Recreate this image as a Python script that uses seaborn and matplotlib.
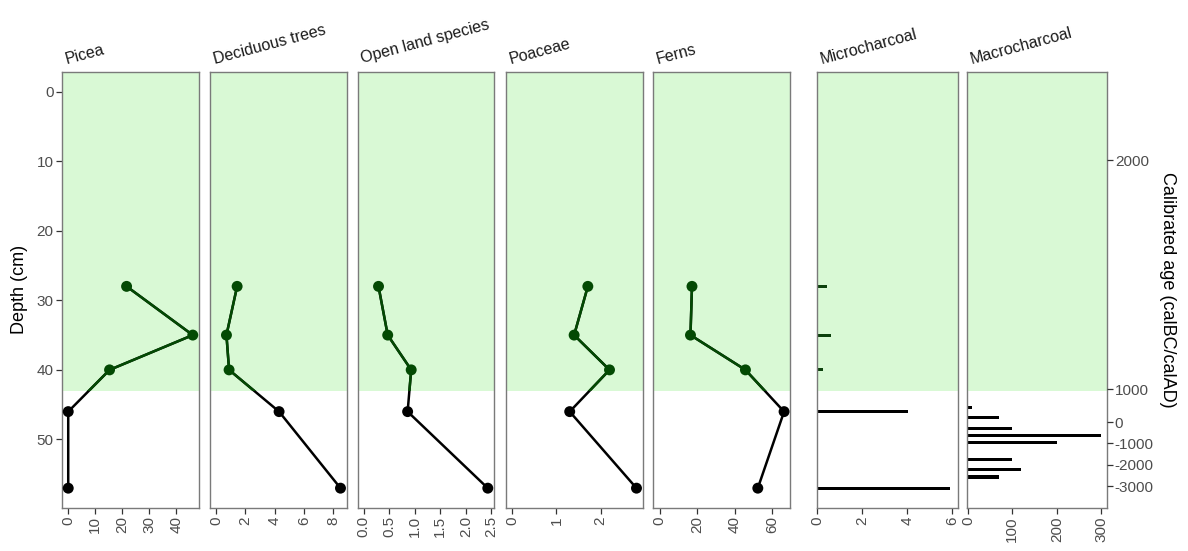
import numpy as np
import pandas as pd
import matplotlib
matplotlib.use("Agg")
import matplotlib.pyplot as plt
import seaborn as sns

# ---------------- data ----------------
depth = [28, 35, 40, 46, 57]
picea = [21.6, 46.1, 15.3, 0.0, 0.0]
deciduous = [1.43, 0.70, 0.88, 4.3, 8.5]
open_land = [0.29, 0.47, 0.93, 0.86, 2.43]
poaceae = [1.71, 1.40, 2.20, 1.30, 2.81]
ferns = [17.3, 16.5, 45.8, 66.4, 52.4]
microcharcoal = [0.45, 0.60, 0.25, 4.05, 5.9]

macro_depth = [45.4, 46.9, 48.4, 49.4, 50.4, 52.9, 54.3, 55.4]
macrocharcoal = [10, 70, 100, 300, 200, 100, 120, 70]

zone_limit = 43  # depth (cm) where the shaded zone ends

age_model_depth = [9.9, 42.8, 47.5, 57.0]
age_model_age = [2000, 1000, 0, -3100]
age_ticks = [2000, 1000, 0, -1000, -2000, -3000]

pollen_titles = ["Picea", "Deciduous trees", "Open land species", "Poaceae", "Ferns"]
pollen_values = [picea, deciduous, open_land, poaceae, ferns]
pollen_ticks = [[0, 10, 20, 30, 40], [0, 2, 4, 6, 8],
                [0.0, 0.5, 1.0, 1.5, 2.0, 2.5], [0, 1, 2], [0, 20, 40, 60]]
pollen_ticklabels = [["0", "10", "20", "30", "40"], ["0", "2", "4", "6", "8"],
                     ["0.0", "0.5", "1.0", "1.5", "2.0", "2.5"], ["0", "1", "2"],
                     ["0", "20", "40", "60"]]
micro_ticks = [0, 2, 4, 6]
macro_ticks = [0, 100, 200, 300]
depth_ticks = [0, 10, 20, 30, 40, 50]

# ---------------- style ----------------
sns.set_style("white")
plt.rcParams["font.family"] = ["Liberation Sans", "DejaVu Sans"]

GREEN_FILL = "#d9f9d5"
DARK_GREEN = "#034a03"
BORDER = "#7a7a7a"
TICK_TXT = "#4d4d4d"
TICK_COL = "#333333"
TICK_SIZE = 11

W, H = 1188, 551
fig = plt.figure(figsize=(W / 100, H / 100), dpi=100)

lefts = [62, 210, 357.5, 506, 653.3, 817, 967.3]
rights = [199, 346.7, 494, 642.7, 790.3, 958, 1106.5]
top_px, bot_px = 71.7, 508

ylim = (59.85, -2.85)


def make_ax(i):
    l, r = lefts[i], rights[i]
    ax = fig.add_axes([l / W, 1 - bot_px / H, (r - l) / W, (bot_px - top_px) / H])
    for s in ax.spines.values():
        s.set_color(BORDER)
        s.set_linewidth(1.0)
    return ax


def finish_ax(ax):
    ax.set_ylim(*ylim)
    ax.set_xlabel("")
    ax.set_ylabel("")
    ax.tick_params(axis="x", which="both", bottom=True, top=False,
                   colors=TICK_COL, labelcolor=TICK_TXT, length=4, width=0.9,
                   labelsize=TICK_SIZE, labelrotation=90, pad=2)
    ax.tick_params(axis="y", which="both", left=False, right=False,
                   labelleft=False, labelright=False)


def add_zone(ax):
    return ax.axhspan(ylim[1], zone_limit, color=GREEN_FILL, lw=0, zorder=0)


def add_title(ax, text):
    ax.text(0.04, 1.012, text, transform=ax.transAxes, rotation=15,
            rotation_mode="anchor", ha="left", va="bottom", fontsize=11.5,
            color="#1a1a1a")


axes = []
for i, (title, vals) in enumerate(zip(pollen_titles, pollen_values)):
    ax = make_ax(i)
    zone = add_zone(ax)
    df = pd.DataFrame({"depth": depth, "value": vals})
    df["zone"] = np.where(df["depth"] < zone_limit, "upper", "lower")
    # black line everywhere, green line clipped to the shaded zone
    sns.lineplot(data=df, x="value", y="depth", orient="y", estimator=None,
                 sort=False, color="black", lw=1.8, ax=ax, zorder=2)
    sns.lineplot(data=df, x="value", y="depth", orient="y", estimator=None,
                 sort=False, color=DARK_GREEN, lw=1.8, ax=ax, zorder=3)
    ax.lines[-1].set_clip_path(zone)
    sns.scatterplot(data=df, x="value", y="depth", hue="zone",
                    palette={"upper": DARK_GREEN, "lower": "black"},
                    s=62, linewidth=0, legend=False, ax=ax, zorder=4, clip_on=False)
    vmax = max(vals)
    ax.set_xlim(-0.05 * vmax, 1.05 * vmax)
    ax.set_xticks(pollen_ticks[i])
    ax.set_xticklabels(pollen_ticklabels[i])
    finish_ax(ax)
    add_title(ax, title)
    axes.append(ax)

# depth axis on first panel
ax0 = axes[0]
ax0.set_yticks(depth_ticks)
ax0.tick_params(axis="y", left=True, labelleft=True, colors=TICK_COL,
                labelcolor=TICK_TXT, length=4, width=0.9, labelsize=TICK_SIZE, pad=2)
ax0.set_ylabel("Depth (cm)", fontsize=13, color="black", labelpad=6)

# microcharcoal
axm = make_ax(5)
add_zone(axm)
dfm = pd.DataFrame({"depth": depth, "value": microcharcoal})
dfm["zone"] = np.where(dfm["depth"] < zone_limit, "upper", "lower")
min_gap = np.min(np.diff(sorted(depth)))
sns.barplot(data=dfm, x="value", y="depth", hue="zone", orient="y",
            native_scale=True, dodge=False, errorbar=None,
            palette={"upper": DARK_GREEN, "lower": "black"},
            width=0.45 / min_gap, linewidth=0, legend=False, ax=axm)
axm.set_xlim(0, 1.06 * max(microcharcoal))
axm.set_xticks(micro_ticks)
finish_ax(axm)
add_title(axm, "Microcharcoal")

# macrocharcoal
axc = make_ax(6)
add_zone(axc)
dfc = pd.DataFrame({"depth": macro_depth, "value": macrocharcoal})
min_gap_c = np.min(np.diff(sorted(macro_depth)))
sns.barplot(data=dfc, x="value", y="depth", orient="y", native_scale=True,
            errorbar=None, color="black", width=0.45 / min_gap_c, linewidth=0,
            ax=axc)
axc.set_xlim(-0.005 * max(macrocharcoal), 1.04 * max(macrocharcoal))
axc.set_xticks(macro_ticks)
finish_ax(axc)
add_title(axc, "Macrocharcoal")

# calibrated age axis (right)
ax2 = axc.twinx()
ax2.set_ylim(*ylim)
tick_depths = np.interp(age_ticks, age_model_age[::-1], age_model_depth[::-1])
ax2.set_yticks(tick_depths)
ax2.set_yticklabels([str(a) for a in age_ticks])
ax2.tick_params(axis="y", left=False, right=True, labelright=True,
                colors=TICK_COL, labelcolor=TICK_TXT, length=4,
                width=0.9, labelsize=TICK_SIZE, pad=2)
ax2.tick_params(axis="x", bottom=False, top=False, labelbottom=False, labeltop=False)
for s in ax2.spines.values():
    s.set_visible(False)
ax2.set_ylabel("Calibrated age (calBC/calAD)", rotation=270, fontsize=13,
               color="black", labelpad=16)

# remove any leftover y ticks on the charcoal panels
for a in (axm, axc):
    a.set_yticks([])
    a.set_ylim(*ylim)

fig.savefig("out.png", dpi=100)
